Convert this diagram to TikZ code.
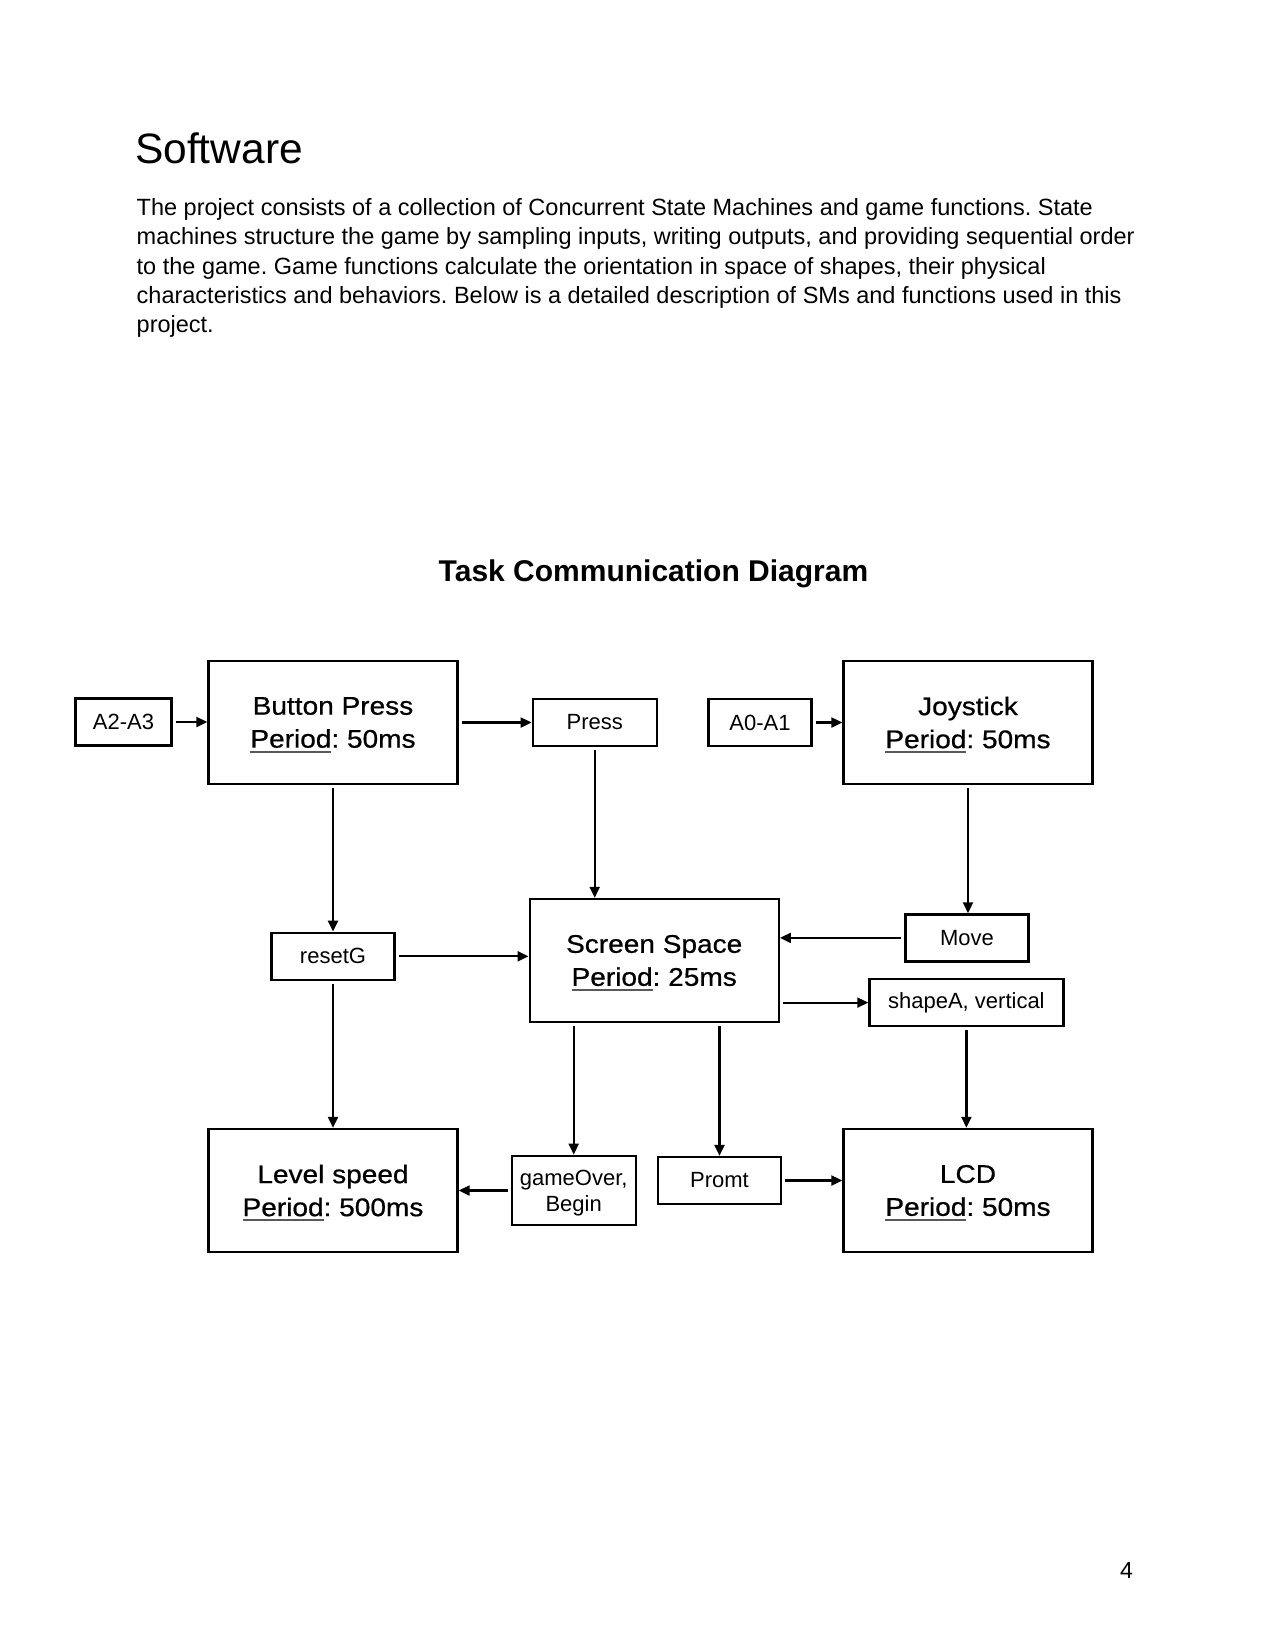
\documentclass[tikz,border=0pt]{standalone}
\usepackage{fontspec}
\setmainfont{Liberation Sans}
\newfontfamily\taskfont{Liberation Sans}[FakeStretch=1.1, FakeBold=0.7]
\usetikzlibrary{arrows.meta}
\definecolor{linegray}{gray}{0.35}
% underlined "Period" label of a task box
\newcommand{\taskperiod}[1]{\setbox0\hbox{Period}\rlap{\smash{\color{linegray}\rule[-5pt]{\wd0}{1.8pt}}}\box0: #1}

\begin{document}
\frenchspacing
\begin{tikzpicture}[x=1pt, y=-1pt,
  task/.style={draw, line width=2.4pt, minimum width=249pt, minimum height=123pt,
    inner sep=0pt, align=center, font=\taskfont\fontsize{25.5}{33}\selectfont},
  signal/.style={draw, line width=2.3pt, minimum height=47pt, inner sep=0pt,
    align=center, font=\fontsize{22}{26}\selectfont},
  link/.style={line width=2.2pt, -{Triangle[length=11pt,width=10pt]}, shorten <=3pt},
  para/.style={anchor=base west, inner sep=0pt, font=\fontsize{23.5}{29.2}\selectfont}]
  \fill[white] (0,0) rectangle (1262,1650);
  \useasboundingbox (0,0) rectangle (1262,1650);

  % page text
  \node[anchor=base west, inner sep=0pt, font=\fontsize{42.5}{50}\selectfont] (heading) at (135,163.3) {Software};
  \foreach \t [count=\i] in {
    {The project consists of a collection of Concurrent State Machines and game functions. State},
    {machines structure the game by sampling inputs, writing outputs, and providing sequential order},
    {to the game. Game functions calculate the orientation in space of shapes, their physical},
    {characteristics and behaviors. Below is a detailed description of SMs and functions used in this},
    {project.}}
    \node[para] (line\i) at (136.5,186.5+29.2*\i) {\t};
  \node[anchor=base, inner sep=0pt, font=\bfseries\fontsize{30}{36}\selectfont] (caption) at (653.5,581.7) {Task Communication Diagram};
  \node[anchor=base west, inner sep=0pt, font=\fontsize{23.2}{28}\selectfont] (pagenum) at (1120,1578) {4};

  % tasks and signals
  \node[signal, minimum width=96pt] (pinsB) at (123.5,722) {A2-A3};
  \node[task] (button) at (333,722.5) {Button Press\\\taskperiod{50ms}};
  \node[signal, minimum width=124pt] (press) at (594.7,722.5) {Press};
  \node[signal, minimum width=103pt] (pinsJ) at (760,722.5) {A0-A1};
  \node[task] (joystick) at (968,722.5) {Joystick\\\taskperiod{50ms}};
  \node[task] (screen) at (654.2,960.5) {Screen Space\\\taskperiod{25ms}};
  \node[signal, minimum width=123pt] (resetg) at (333,956.3) {resetG};
  \node[signal, minimum width=123pt] (move) at (967,937.9) {Move};
  \node[signal, minimum width=194pt] (shape) at (966.4,1002.6) {shapeA, vertical};
  \node[task] (level) at (333,1190.5) {Level speed\\\taskperiod{500ms}};
  \node[signal, minimum width=124pt, minimum height=69.5pt, text depth=0pt] (gameover) at (573.7,1190.5) {gameOver,\\Begin};
  \node[signal, minimum width=123pt] (promt) at (719.5,1180.5) {Promt};
  \node[task] (lcd) at (968,1190.5) {LCD\\\taskperiod{50ms}};

  % connectors
  \draw[link] (pinsB.east) -- (pinsB.east -| button.west);
  \draw[link] (button.east) -- (press.west);
  \draw[link] (pinsJ.east) -- (joystick.west);
  \draw[link] (button.south) -- (resetg.north);
  \draw[link] (press.south) -- (press.south |- screen.north);
  \draw[link] (joystick.south) -- (joystick.south |- move.north);
  \draw[link] (resetg.east) -- (resetg.east -| screen.west);
  \draw[link] (move.west) -- (move.west -| screen.east);
  \draw[link] (shape.west -| screen.east) -- (shape.west);
  \draw[link] (resetg.south) -- (level.north);
  \draw[link] (gameover.north |- screen.south) -- (gameover.north);
  \draw[link] (promt.north |- screen.south) -- (promt.north);
  \draw[link] (shape.south) -- (shape.south |- lcd.north);
  \draw[link] (gameover.west) -- (gameover.west -| level.east);
  \draw[link] (promt.east) -- (promt.east -| lcd.west);
\end{tikzpicture}
\end{document}
